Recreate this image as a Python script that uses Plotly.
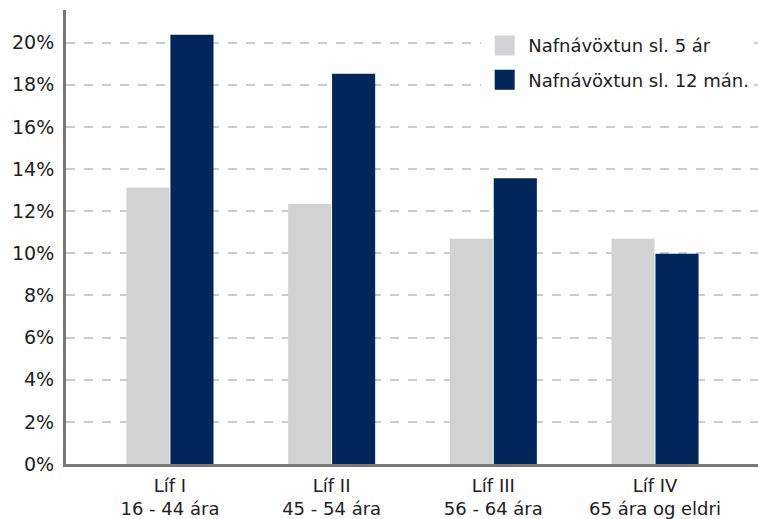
import plotly.graph_objects as go

categories = ["Líf I<br>16 - 44 ára", "Líf II<br>45 - 54 ára", "Líf III<br>56 - 64 ára", "Líf IV<br>65 ára og eldri"]
series_names = ["Nafnávöxtun sl. 5 ár", "Nafnávöxtun sl. 12 mán."]
series_colors = ["#d1d2d4", "#00265b"]
values_5y = [13.13, 12.34, 10.69, 10.69]
values_12m = [20.38, 18.52, 13.56, 9.98]
tick_vals = [0, 2, 4, 6, 8, 10, 12, 14, 16, 18, 20]
tick_text = [f"{v}%" for v in tick_vals]

FONT = "DejaVu Sans, Arial, sans-serif"

fig = go.Figure()
for vals, name, col in zip([values_5y, values_12m], series_names, series_colors):
    fig.add_trace(go.Bar(x=categories, y=vals, name=name, showlegend=False,
                         marker=dict(color=col, line=dict(width=0))))
# legend entries with larger square swatches
for i, (name, col) in enumerate(zip(series_names, series_colors)):
    fig.add_trace(go.Scatter(x=[None], y=[None], mode="markers", name=name,
                             legendgroup=f"g{i}",
                             marker=dict(symbol="square", size=16, color=col,
                                         line=dict(color=col, width=4))))

fig.update_layout(
    width=758, height=519,
    margin=dict(l=66, r=0, t=10, b=55),
    paper_bgcolor="white", plot_bgcolor="white",
    barmode="group", bargap=0.456, bargroupgap=0.02,
    font=dict(family=FONT, size=18, color="#222222"),
    legend=dict(x=0.6, y=0.962, xanchor="left", yanchor="top",
                bgcolor="white", font=dict(size=18, color="#222222"),
                tracegroupgap=8, itemwidth=37, traceorder="grouped",
                itemsizing="trace"),
    showlegend=True,
)
fig.update_xaxes(range=[-0.643, 3.637], showline=True, linecolor="#777777", linewidth=3,
                 ticks="", showgrid=False, zeroline=False, automargin=False,
                 ticklabelstandoff=3,
                 tickfont=dict(size=18, color="#222222"))
fig.update_yaxes(range=[0, 21.55], tickvals=tick_vals, ticktext=tick_text,
                 showline=True, linecolor="#777777", linewidth=3,
                 showgrid=True, gridcolor="#cccccc", gridwidth=2, griddash="dash",
                 zeroline=False, ticks="", ticklabelstandoff=5, automargin=False,
                 tickfont=dict(size=19, color="#222222"))

fig.write_html("out.html", config={"displayModeBar": False},
               post_script="document.body.style.margin='0';document.body.style.padding='0';")
